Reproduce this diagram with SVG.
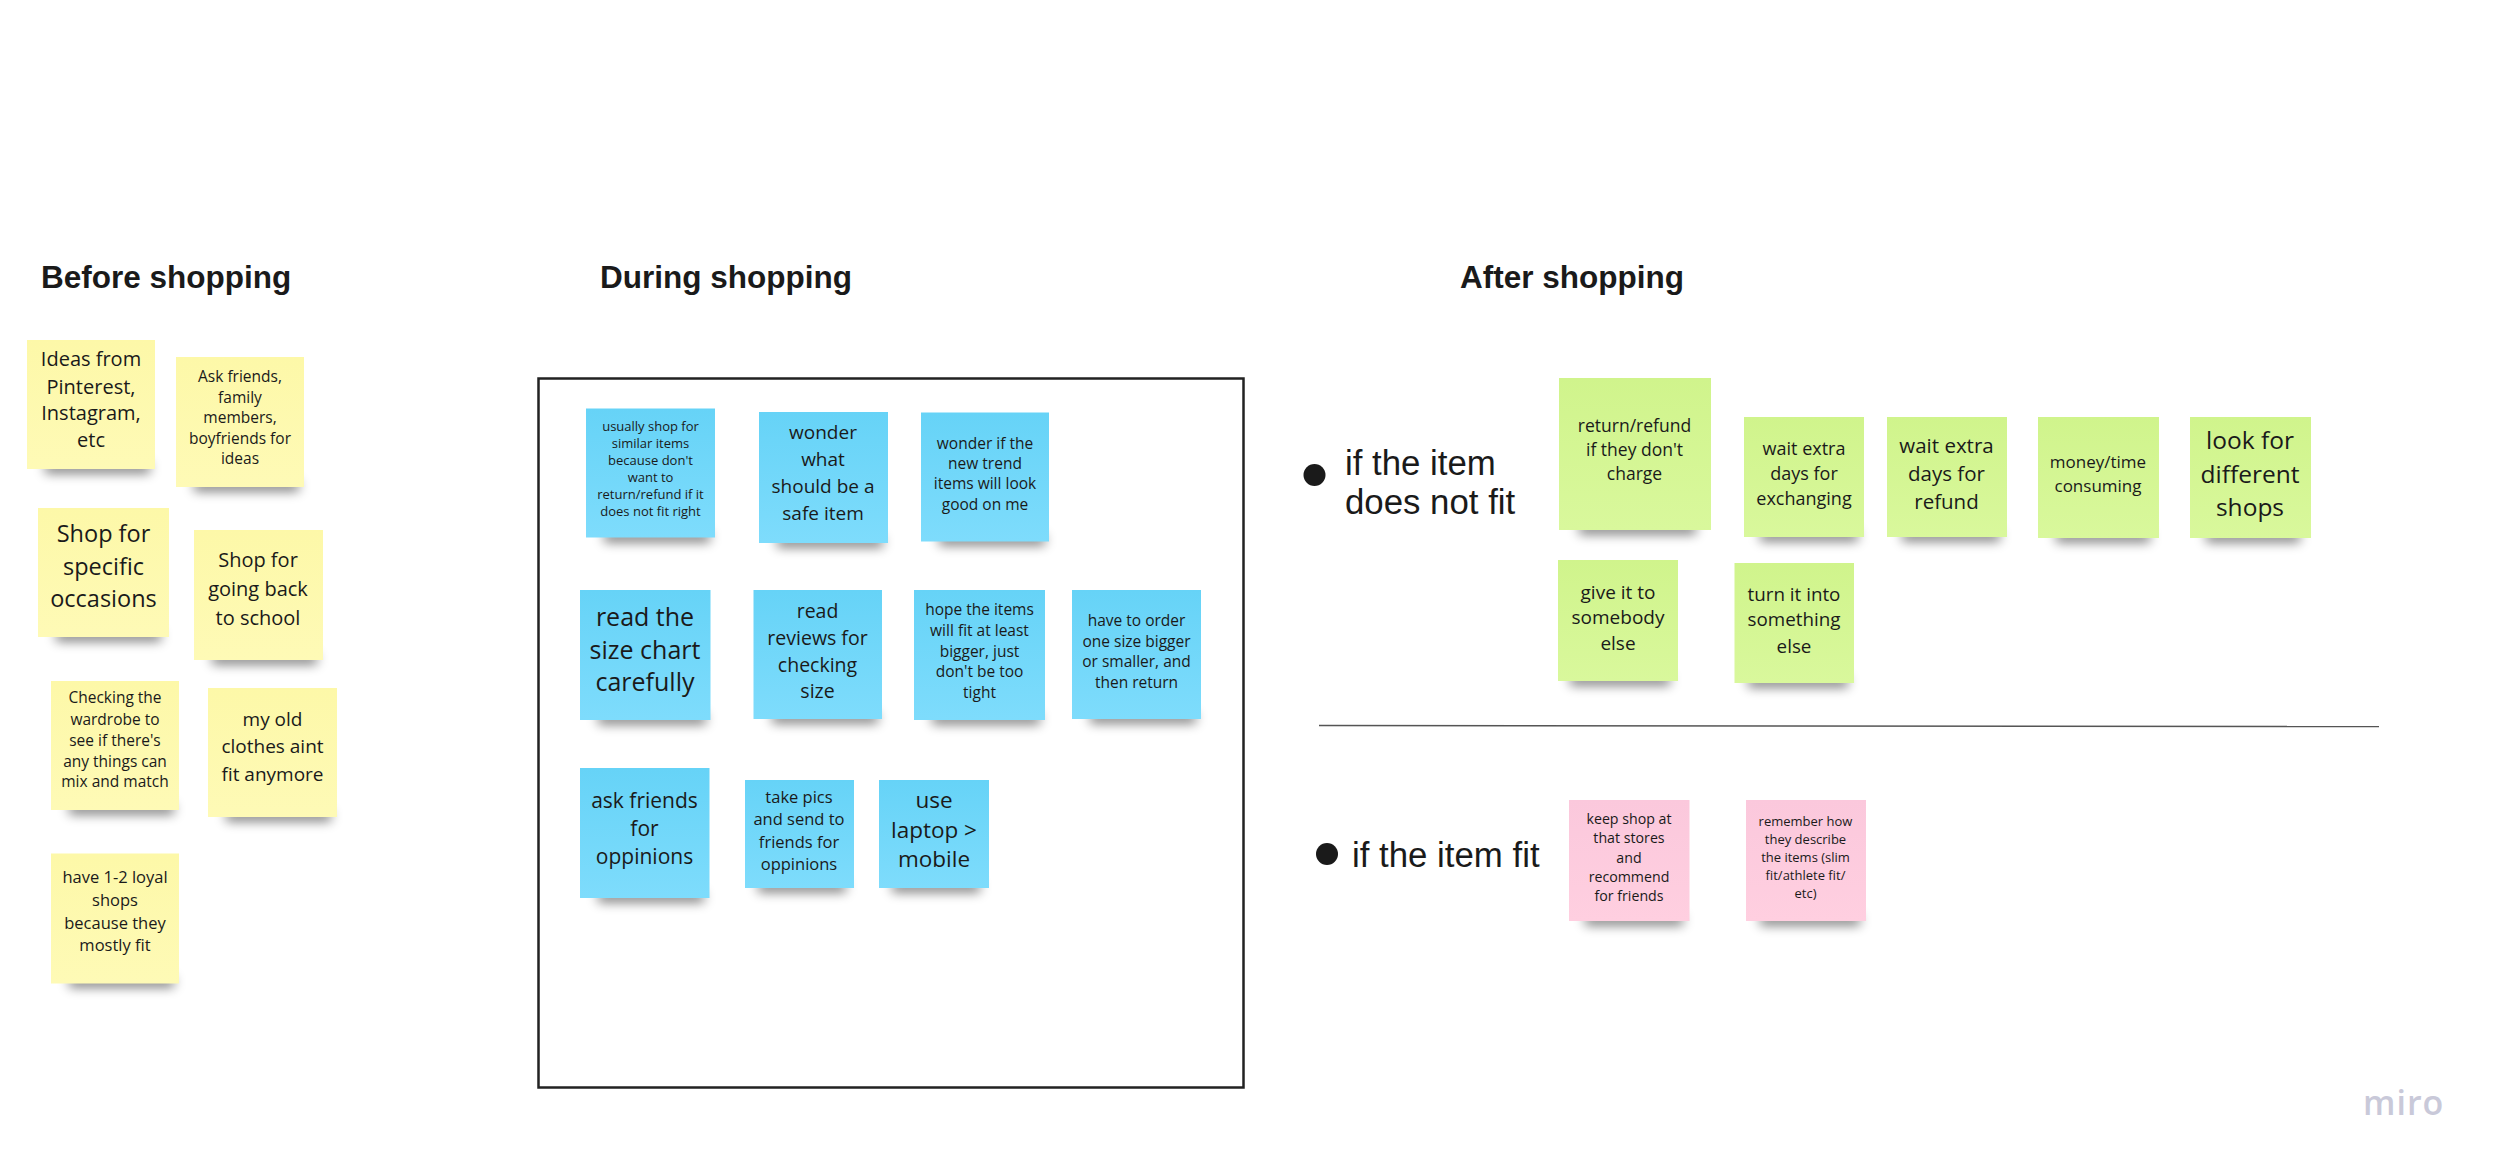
<svg xmlns="http://www.w3.org/2000/svg" width="2500" height="1174" viewBox="0 0 2500 1174">
<style>
text{font-family:"Open Sans","Noto Sans",sans-serif;fill:#1a1a1a;text-anchor:middle}
.h{font-family:"Liberation Sans",Arial,sans-serif;font-weight:700;font-size:31.500px;text-anchor:start}
.l{font-family:"Liberation Sans",Arial,sans-serif;font-size:34.800px;text-anchor:start}
.s{fill:#000;opacity:.55;filter:url(#b)}
.y{fill:url(#gy)}.c{fill:url(#gc)}.g{fill:url(#gg)}.p{fill:url(#gp)}
.miro{font-size:34px;font-weight:600;fill:#c9c9d9;letter-spacing:1px;text-anchor:start}
</style>
<defs>
<filter id="b" x="-15%" y="-200%" width="130%" height="500%"><feGaussianBlur stdDeviation="6"/></filter>
<linearGradient id="gy" x1="0" y1="0" x2="0" y2="1"><stop offset="0" stop-color="#fdf8a8"/><stop offset="1" stop-color="#fefab6"/></linearGradient>
<linearGradient id="gc" x1="0" y1="0" x2="0" y2="1"><stop offset="0" stop-color="#66d3f7"/><stop offset="1" stop-color="#7edcfc"/></linearGradient>
<linearGradient id="gg" x1="0" y1="0" x2="0" y2="1"><stop offset="0" stop-color="#d0f48c"/><stop offset="1" stop-color="#d9f89c"/></linearGradient>
<linearGradient id="gp" x1="0" y1="0" x2="0" y2="1"><stop offset="0" stop-color="#fbc8dc"/><stop offset="1" stop-color="#ffcfe0"/></linearGradient>
</defs>
<rect width="2500" height="1174" fill="#fff"/>
<g id="headings">
<text class="h" x="41" y="288">Before shopping</text>
<text class="h" x="600" y="288">During shopping</text>
<text class="h" x="1460" y="288">After shopping</text>
</g>
<g id="frame"><rect x="538.500" y="378.500" width="705" height="709" fill="none" stroke="#222" stroke-width="2.500"/></g>
<g id="connectors"><line x1="1319" y1="725.500" x2="2379" y2="726.500" stroke="#555" stroke-width="1.500"/></g>
<g id="condition-no-fit"><circle cx="1314.500" cy="475" r="11" fill="#1a1a1a"/><text class="l" x="1345" y="475">if the item</text><text class="l" x="1345" y="514">does not fit</text></g>
<g id="condition-fit"><circle cx="1327" cy="854" r="11" fill="#1a1a1a"/><text class="l" x="1352" y="867">if the item fit</text></g>

<g id="y1"><rect class="s" x="45" y="463" width="105" height="10"/><rect class="y" x="27" y="340" width="128" height="129"/><text font-size="20"><tspan x="91" y="366">Ideas from</tspan><tspan x="91" y="393.500">Pinterest,</tspan><tspan x="91" y="420">Instagram,</tspan><tspan x="91" y="447">etc</tspan></text></g>
<g id="y2"><rect class="s" x="194" y="481" width="105" height="10"/><rect class="y" x="176" y="357" width="128" height="130"/><text font-size="15.500"><tspan x="240" y="381.500">Ask friends,</tspan><tspan x="240" y="402.500">family</tspan><tspan x="240" y="423">members,</tspan><tspan x="240" y="444">boyfriends for</tspan><tspan x="240" y="464">ideas</tspan></text></g>
<g id="y3"><rect class="s" x="56" y="631" width="105" height="10"/><rect class="y" x="38" y="508" width="131" height="129"/><text font-size="23.500"><tspan x="103.500" y="542">Shop for</tspan><tspan x="103.500" y="574.500">specific</tspan><tspan x="103.500" y="607">occasions</tspan></text></g>
<g id="y4"><rect class="s" x="212" y="654" width="105" height="10"/><rect class="y" x="194" y="530" width="129" height="130"/><text font-size="20"><tspan x="258" y="567">Shop for</tspan><tspan x="258" y="596">going back</tspan><tspan x="258" y="624.500">to school</tspan></text></g>
<g id="y5"><rect class="s" x="69" y="804" width="105" height="10"/><rect class="y" x="51" y="681" width="128" height="129"/><text font-size="15.500"><tspan x="115" y="703">Checking the</tspan><tspan x="115" y="724.500">wardrobe to</tspan><tspan x="115" y="745.500">see if there's</tspan><tspan x="115" y="766.500">any things can</tspan><tspan x="115" y="787">mix and match</tspan></text></g>
<g id="y6"><rect class="s" x="226" y="811" width="105" height="10"/><rect class="y" x="208" y="688" width="129" height="129"/><text font-size="19"><tspan x="272.500" y="725.500">my old</tspan><tspan x="272.500" y="753">clothes aint</tspan><tspan x="272.500" y="780.500">fit anymore</tspan></text></g>
<g id="y7"><rect class="s" x="69" y="977" width="105" height="10"/><rect class="y" x="51" y="853.500" width="128" height="130"/><text font-size="16.500"><tspan x="115" y="883">have 1-2 loyal</tspan><tspan x="115" y="906">shops</tspan><tspan x="115" y="928.500">because they</tspan><tspan x="115" y="951">mostly fit</tspan></text></g>

<g id="c1"><rect class="s" x="604" y="532" width="106" height="10"/><rect class="c" x="586" y="408.500" width="129" height="129"/><text font-size="13"><tspan x="650.500" y="430.500">usually shop for</tspan><tspan x="650.500" y="447.500">similar items</tspan><tspan x="650.500" y="464.700">because don't</tspan><tspan x="650.500" y="482">want to</tspan><tspan x="650.500" y="499">return/refund if it</tspan><tspan x="650.500" y="516">does not fit right</tspan></text></g>
<g id="c2"><rect class="s" x="777" y="537" width="106" height="10"/><rect class="c" x="759" y="412" width="129" height="131"/><text font-size="19"><tspan x="823" y="439">wonder</tspan><tspan x="823" y="466">what</tspan><tspan x="823" y="493">should be a</tspan><tspan x="823" y="520">safe item</tspan></text></g>
<g id="c3"><rect class="s" x="939" y="535" width="106" height="10"/><rect class="c" x="921" y="412.500" width="128" height="129"/><text font-size="15.500"><tspan x="985" y="448.500">wonder if the</tspan><tspan x="985" y="469">new trend</tspan><tspan x="985" y="489">items will look</tspan><tspan x="985" y="510">good on me</tspan></text></g>
<g id="c4"><rect class="s" x="598" y="714" width="108" height="10"/><rect class="c" x="580" y="590" width="130.500" height="130"/><text font-size="25"><tspan x="645" y="626">read the</tspan><tspan x="645" y="659">size chart</tspan><tspan x="645" y="691">carefully</tspan></text></g>
<g id="c5"><rect class="s" x="772" y="713" width="106" height="10"/><rect class="c" x="753.500" y="590" width="128.500" height="129"/><text font-size="19.500"><tspan x="817.500" y="618">read</tspan><tspan x="817.500" y="645">reviews for</tspan><tspan x="817.500" y="671.500">checking</tspan><tspan x="817.500" y="697.500">size</tspan></text></g>
<g id="c6"><rect class="s" x="932" y="714" width="108" height="10"/><rect class="c" x="914" y="590" width="131" height="130"/><text font-size="15.500"><tspan x="979.500" y="615">hope the items</tspan><tspan x="979.500" y="636">will fit at least</tspan><tspan x="979.500" y="656.500">bigger, just</tspan><tspan x="979.500" y="677">don't be too</tspan><tspan x="979.500" y="697.500">tight</tspan></text></g>
<g id="c7"><rect class="s" x="1090" y="713" width="106" height="10"/><rect class="c" x="1072" y="590" width="129" height="129"/><text font-size="15.500"><tspan x="1136.500" y="626">have to order</tspan><tspan x="1136.500" y="646.500">one size bigger</tspan><tspan x="1136.500" y="667">or smaller, and</tspan><tspan x="1136.500" y="687.500">then return</tspan></text></g>
<g id="c8"><rect class="s" x="598" y="892" width="106" height="10"/><rect class="c" x="580" y="768" width="129.500" height="130"/><text font-size="21"><tspan x="644.500" y="808">ask friends</tspan><tspan x="644.500" y="836">for</tspan><tspan x="644.500" y="863.500">oppinions</tspan></text></g>
<g id="c9"><rect class="s" x="758" y="882" width="88" height="10"/><rect class="c" x="745" y="780" width="109" height="108"/><text font-size="16.500"><tspan x="799" y="803">take pics</tspan><tspan x="799" y="825">and send to</tspan><tspan x="799" y="847.500">friends for</tspan><tspan x="799" y="870">oppinions</tspan></text></g>
<g id="c10"><rect class="s" x="892" y="882" width="88" height="10"/><rect class="c" x="879" y="780" width="110" height="108"/><text font-size="22.500"><tspan x="934" y="808">use</tspan><tspan x="934" y="838">laptop &gt;</tspan><tspan x="934" y="867">mobile</tspan></text></g>

<g id="g1"><rect class="s" x="1579" y="524" width="117" height="10"/><rect class="g" x="1559" y="378" width="152" height="152"/><text font-size="17.500"><tspan x="1634.500" y="431.500">return/refund</tspan><tspan x="1634.500" y="456">if they don't</tspan><tspan x="1634.500" y="480">charge</tspan></text></g>
<g id="g2"><rect class="s" x="1760" y="531" width="98" height="10"/><rect class="g" x="1744" y="417" width="120" height="120"/><text font-size="18"><tspan x="1804" y="455">wait extra</tspan><tspan x="1804" y="479.500">days for</tspan><tspan x="1804" y="505">exchanging</tspan></text></g>
<g id="g3"><rect class="s" x="1902" y="531" width="98" height="10"/><rect class="g" x="1887" y="417" width="120" height="120"/><text font-size="20.500"><tspan x="1946.500" y="453">wait extra</tspan><tspan x="1946.500" y="481">days for</tspan><tspan x="1946.500" y="509">refund</tspan></text></g>
<g id="g4"><rect class="s" x="2056" y="532" width="94" height="10"/><rect class="g" x="2038" y="417" width="121" height="121"/><text font-size="17"><tspan x="2098" y="468">money/time</tspan><tspan x="2098" y="492">consuming</tspan></text></g>
<g id="g5"><rect class="s" x="2206" y="532" width="94" height="10"/><rect class="g" x="2190" y="417" width="121" height="121"/><text font-size="24.500"><tspan x="2250" y="448.500">look for</tspan><tspan x="2250" y="482.500">different</tspan><tspan x="2250" y="515.500">shops</tspan></text></g>
<g id="g6"><rect class="s" x="1570" y="675" width="100" height="10"/><rect class="g" x="1558" y="560" width="120" height="121"/><text font-size="19"><tspan x="1618" y="599">give it to</tspan><tspan x="1618" y="624">somebody</tspan><tspan x="1618" y="650">else</tspan></text></g>
<g id="g7"><rect class="s" x="1748" y="677" width="100" height="10"/><rect class="g" x="1734.500" y="563" width="119.500" height="120"/><text font-size="18.800"><tspan x="1794" y="600.500">turn it into</tspan><tspan x="1794" y="626">something</tspan><tspan x="1794" y="652.500">else</tspan></text></g>

<g id="p1"><rect class="s" x="1585" y="915" width="98" height="10"/><rect class="p" x="1569" y="800" width="120.500" height="121"/><text font-size="14.200"><tspan x="1629" y="824">keep shop at</tspan><tspan x="1629" y="843">that stores</tspan><tspan x="1629" y="863">and</tspan><tspan x="1629" y="882">recommend</tspan><tspan x="1629" y="901">for friends</tspan></text></g>
<g id="p2"><rect class="s" x="1760" y="915" width="100" height="10"/><rect class="p" x="1746" y="800" width="120" height="121"/><text font-size="13"><tspan x="1805.500" y="825.500">remember how</tspan><tspan x="1805.500" y="843.500">they describe</tspan><tspan x="1805.500" y="861.500">the items (slim</tspan><tspan x="1805.500" y="879.500">fit/athlete fit/</tspan><tspan x="1805.500" y="897.500">etc)</tspan></text></g>

<g id="logo"><text class="miro" x="2363" y="1115">miro</text></g>
</svg>
